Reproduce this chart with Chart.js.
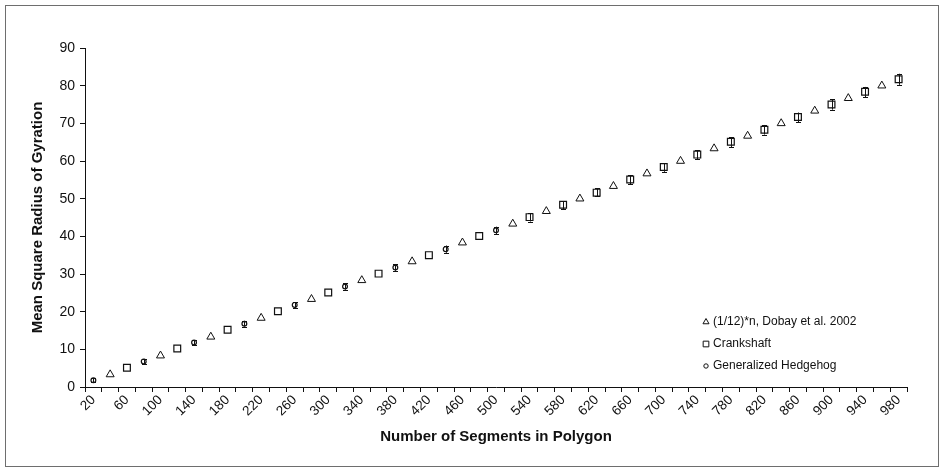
<!DOCTYPE html>
<html>
<head>
<meta charset="utf-8">
<script src="https://cdn.jsdelivr.net/npm/chart.js@4/dist/chart.umd.min.js"></script>
<style>
  html, body { margin: 0; padding: 0; background: #fff; }
  #wrap { position: relative; width: 945px; height: 472px; }
</style>
</head>
<body>
<div id="wrap"><canvas id="c" width="945" height="472"></canvas></div>
<script>
// ---- data ----
const categories = ['20','40','60','80','100','120','140','160','180','200','220','240','260','280','300','320','340','360','380','400','420','440','460','480','500','520','540','560','580','600','620','640','660','680','700','720','740','760','780','800','820','840','860','880','900','920','940','960','980'];

const theoryN = [40,100,160,220,280,340,400,460,520,560,600,640,680,720,760,800,840,880,920,960];
const theoryValues = [3.33,8.33,13.33,18.33,23.33,28.33,33.33,38.33,43.33,46.67,50.0,53.33,56.67,60.0,63.33,66.67,70.0,73.33,76.67,80.0];

const crankN = [60,120,180,240,300,360,420,480,540,580,620,660,700,740,780,820,860,900,940,980];
const crankValues = [5.1,10.2,15.2,20.1,25.1,30.1,35.0,40.1,45.1,48.4,51.6,55.1,58.4,61.7,65.1,68.3,71.7,75.0,78.4,81.7];

const hedgeN = [20,80,140,200,260,320,380,440,500,540,580,620,660,700,740,780,820,860,900,940,980];
const hedgeValues = [1.8,6.8,11.8,16.8,21.8,26.7,31.7,36.6,41.6,45.0,48.3,51.7,55.0,58.3,61.7,65.0,68.3,71.6,75.0,78.3,81.7];
const hedgeErr = [0.3,0.4,0.4,0.5,0.5,0.6,0.6,0.7,0.7,0.8,0.8,0.8,0.9,0.9,0.9,1.0,1.0,1.0,1.1,1.1,1.2];

const seriesLabels = ['(1/12)*n, Dobay et al. 2002', 'Crankshaft', 'Generalized Hedgehog'];
const yTitle = 'Mean Square Radius of Gyration';
const xTitle = 'Number of Segments in Polygon';

function align(ns, vs) {
  return categories.map(c => { const i = ns.indexOf(Number(c)); return i >= 0 ? vs[i] : null; });
}
function alignErr() {
  return categories.map(c => { const i = hedgeN.indexOf(Number(c)); return i >= 0 ? hedgeErr[i] : null; });
}
const hedgeErrAligned = alignErr();

const FONT = 'Liberation Sans, Arial, sans-serif';
const INK = '#111';

const borderPlugin = {
  id: 'outerBorder',
  beforeDraw(chart) {
    const ctx = chart.ctx;
    ctx.save();
    ctx.fillStyle = '#fff';
    ctx.fillRect(0, 0, chart.width, chart.height);
    ctx.strokeStyle = '#6e6e6e';
    ctx.lineWidth = 1;
    ctx.strokeRect(5.5, 5.5, 933, 461);
    ctx.restore();
  }
};

const errorBarPlugin = {
  id: 'errorBars',
  afterDatasetsDraw(chart) {
    const ctx = chart.ctx;
    const ys = chart.scales.y;
    const meta = chart.getDatasetMeta(2);
    ctx.save();
    ctx.strokeStyle = INK;
    ctx.lineWidth = 1;
    meta.data.forEach((pt, i) => {
      const v = chart.data.datasets[2].data[i];
      const e = hedgeErrAligned[i];
      if (v === null || e === null) return;
      const x = Math.round(pt.x) + 0.5;
      const y1 = ys.getPixelForValue(v + e) - 1;
      const y2 = ys.getPixelForValue(v - e) + 1;
      ctx.beginPath();
      ctx.moveTo(x, y1); ctx.lineTo(x, y2);
      ctx.moveTo(x - 2.5, Math.round(y1) + 0.5); ctx.lineTo(x + 2.5, Math.round(y1) + 0.5);
      ctx.moveTo(x - 2.5, Math.round(y2) + 0.5); ctx.lineTo(x + 2.5, Math.round(y2) + 0.5);
      ctx.stroke();
    });
    ctx.restore();
  }
};

const legendPlugin = {
  id: 'insideLegend',
  afterDraw(chart) {
    const ctx = chart.ctx;
    const styles = [
      {pointStyle: 'triangle', radius: 3.5},
      {pointStyle: 'rect', radius: 4},
      {pointStyle: 'circle', radius: 2.2}
    ];
    const x0 = 706, y0 = 322, dy = 22;
    ctx.save();
    ctx.font = '12px ' + FONT;
    ctx.textBaseline = 'middle';
    ctx.textAlign = 'left';
    seriesLabels.forEach((lab, i) => {
      const y = y0 + i * dy;
      ctx.strokeStyle = INK;
      ctx.fillStyle = '#fff';
      ctx.lineWidth = 1;
      Chart.helpers.drawPoint(ctx, {pointStyle: styles[i].pointStyle, radius: styles[i].radius, rotation: 0, borderWidth: 1}, x0, y);
      ctx.fillStyle = INK;
      ctx.fillText(lab, x0 + 7, y);
    });
    ctx.restore();
  }
};

new Chart(document.getElementById('c'), {
  type: 'line',
  data: {
    labels: categories,
    datasets: [
      { label: seriesLabels[0], data: align(theoryN, theoryValues), showLine: false,
        pointStyle: 'triangle', pointRadius: 4.6, borderColor: INK, backgroundColor: '#fff', pointBorderWidth: 1 },
      { label: seriesLabels[1], data: align(crankN, crankValues), showLine: false,
        pointStyle: 'rect', pointRadius: 4.8, borderColor: INK, backgroundColor: '#fff', pointBorderWidth: 1.2 },
      { label: seriesLabels[2], data: align(hedgeN, hedgeValues), showLine: false,
        pointStyle: 'circle', pointRadius: 2.4, borderColor: INK, backgroundColor: '#fff', pointBorderWidth: 1.2 }
    ]
  },
  options: {
    responsive: false,
    animation: false,
    events: [],
    layout: { padding: { left: 6, right: 38, top: 48, bottom: 6 } },
    plugins: { legend: { display: false }, tooltip: { enabled: false } },
    elements: { point: { hoverRadius: 0 } },
    clip: false,
    scales: {
      x: {
        type: 'category',
        offset: true,
        grid: { offset: true, drawOnChartArea: false, drawTicks: true, tickLength: 5, color: INK },
        border: { display: true, color: INK, width: 1 },
        ticks: {
          autoSkip: false, minRotation: 45, maxRotation: 45, padding: 0,
          color: INK, font: { family: FONT, size: 13.5 },
          callback: function(v, i) { return i % 2 === 0 ? categories[i] : ''; }
        },
        title: { display: true, text: xTitle, color: INK, font: { family: FONT, size: 15, weight: 'bold' }, padding: { top: 0, bottom: 20 } },
        afterFit: s => { s.height = 79; }
      },
      y: {
        min: 0, max: 90,
        grid: { drawOnChartArea: false, drawTicks: true, tickLength: 5, color: INK },
        border: { display: true, color: INK, width: 1 },
        ticks: { stepSize: 10, padding: 5, color: INK, font: { family: FONT, size: 14 } },
        title: { display: true, text: yTitle, color: INK, font: { family: FONT, size: 15, weight: 'bold' }, padding: { top: 23, bottom: 0 } },
        afterFit: s => { s.width = 79; }
      }
    }
  },
  plugins: [borderPlugin, errorBarPlugin, legendPlugin]
});
</script>
</body>
</html>
